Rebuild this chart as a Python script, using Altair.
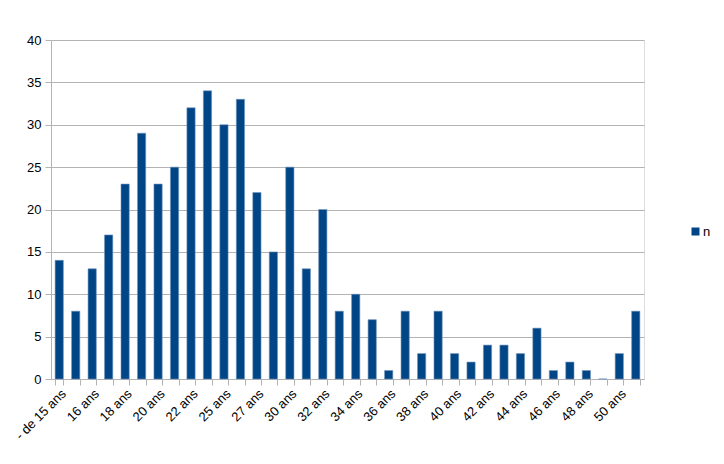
import altair as alt
import pandas as pd

# tranches d'âge (une étiquette sur deux est affichée sur l'axe)
ages = [
    "- de 15 ans", "15 ans", "16 ans", "17 ans", "18 ans", "19 ans",
    "20 ans", "21 ans", "22 ans", "24 ans", "25 ans", "26 ans",
    "27 ans", "29 ans", "30 ans", "31 ans", "32 ans", "33 ans",
    "34 ans", "35 ans", "36 ans", "37 ans", "38 ans", "39 ans",
    "40 ans", "41 ans", "42 ans", "43 ans", "44 ans", "45 ans",
    "46 ans", "47 ans", "48 ans", "49 ans", "50 ans", "+ de 50 ans",
]
n = [
    14, 8, 13, 17, 23, 29,
    23, 25, 32, 34, 30, 33,
    22, 15, 25, 13, 20, 8,
    10, 7, 1, 8, 3, 8,
    3, 2, 4, 4, 3, 6,
    1, 2, 1, 0, 3, 8,
]
serie = "n"

df = pd.DataFrame({"age": ages, "n": n, "serie": serie})

shown = ages[::2]
label_expr = "indexof([" + ",".join("'%s'" % a for a in shown) + "], datum.label) >= 0 ? datum.label : ''"

grey = "#b3b3b3"
font = "Liberation Sans"

chart = (
    alt.Chart(df)
    .mark_bar(stroke="#6f93bd", strokeWidth=0.6)
    .encode(
        x=alt.X(
            "age:N",
            sort=ages,
            title=None,
            scale=alt.Scale(paddingInner=0.5, paddingOuter=0.25),
            axis=alt.Axis(
                labelAngle=-45,
                labelExpr=label_expr,
                tickBand="extent",
                tickSize=6,
                tickColor=grey,
                domainColor=grey,
                labelFontSize=13,
                labelColor="#000000",
                labelPadding=2,
                grid=False,
            ),
        ),
        y=alt.Y(
            "n:Q",
            title=None,
            scale=alt.Scale(domain=[0, 40], nice=False),
            axis=alt.Axis(
                values=list(range(0, 41, 5)),
                tickSize=6,
                tickColor=grey,
                domainColor=grey,
                gridColor=grey,
                labelFontSize=13,
                labelColor="#000000",
                labelPadding=4,
            ),
        ),
        color=alt.Color(
            "serie:N",
            scale=alt.Scale(range=["#004586"]),
            legend=alt.Legend(
                title=None,
                orient="none",
                legendX=638,
                legendY=185,
                symbolType="square",
                symbolSize=64,
                symbolStrokeWidth=0,
                labelOffset=1,
                labelFontSize=13,
                labelColor="#000000",
            ),
        ),
    )
    .properties(
        width=593,
        height=339,
        autosize=alt.AutoSizeParams(type="none"),
        padding={"left": 43, "top": 32, "right": 72, "bottom": 77},
    )
    .configure_view(stroke=grey, strokeWidth=1)
    .configure(font=font, background="white")
)

chart.save("out.html", embed_options={"renderer": "svg", "actions": False})
